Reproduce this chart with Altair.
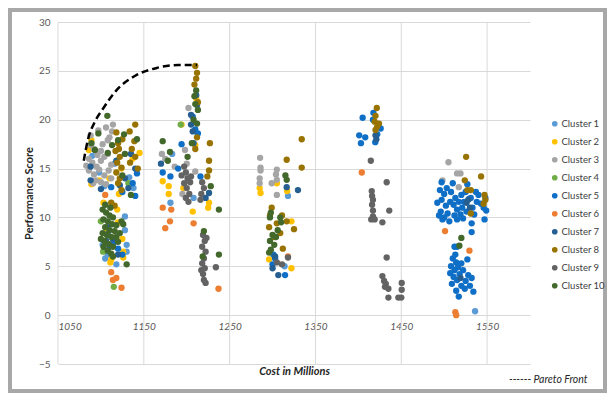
import altair as alt
import pandas as pd

cluster_names = [f"Cluster {i}" for i in range(1, 11)]
cluster_colors = ["#5B9BD5", "#FFC000", "#A5A5A5", "#70AD47", "#0F6FC6",
                  "#ED7D31", "#255E91", "#997300", "#636363", "#43682B"]

x_ticks = [1050, 1150, 1250, 1350, 1450, 1550]
y_ticks = [-5, 0, 5, 10, 15, 20, 25, 30]

c1 = [(1098, 14.6), (1104, 13.2), (1116, 15.5), (1133, 14.1), (1090, 16.3), (1138, 13.0),
      (1128, 8.7), (1130, 7.2), (1130, 6.5), (1118, 5.2), (1102, 7.2), (1108, 6.2), (1105, 5.8),
      (1128, 10.1), (1181, 11.5), (1208, 12.0), (1183, 16.5), (1318, 12.2), (1314, 5.0), (1536, 0.4)]

c2 = [(1089, 17.9), (1086, 16.9), (1098, 13.8), (1110, 14.0), (1124, 15.0), (1137, 16.0), (1089, 13.4),
      (1145, 16.6), (1121, 12.4), (1103, 11.5), (1119, 10.8), (1125, 7.8), (1126, 6.5), (1126, 5.9),
      (1112, 5.7), (1111, 5.4), (1107, 8.8), (1120, 9.5), (1194, 19.5), (1172, 13.7), (1179, 13.2),
      (1179, 12.4), (1196, 13.0), (1207, 10.6), (1226, 11.5), (1225, 11.0), (1210, 17.4), (1211, 22.2),
      (1285, 13.0), (1286, 12.5), (1305, 13.5), (1317, 12.7), (1322, 9.6), (1322, 4.8), (1296, 5.7)]

c3 = [(1114, 19.5), (1113, 18.8), (1108, 17.9), (1088, 17.4), (1092, 17.0), (1096, 16.4), (1100, 16.8),
      (1086, 16.0), (1090, 15.6), (1095, 15.2), (1100, 15.8), (1104, 16.2), (1108, 16.5), (1112, 15.4),
      (1086, 14.8), (1092, 14.4), (1098, 14.9), (1104, 14.3), (1109, 14.8), (1094, 13.8), (1100, 13.6),
      (1106, 13.4), (1112, 14.0), (1088, 18.4), (1097, 18.9), (1110, 18.2), (1102, 17.5), (1106, 19.2),
      (1083, 15.3), (1091, 13.5), (1202, 21.2), (1171, 16.5), (1175, 16.0), (1198, 16.9), (1186, 15.2),
      (1200, 15.5), (1210, 14.7), (1195, 12.4), (1285.5, 16.1), (1286, 15.1), (1286, 14.8), (1285, 14.0),
      (1285, 13.5), (1305, 14.9), (1304, 14.4), (1305, 13.85), (1299, 13.5), (1305, 12.3),
      (1505, 15.65), (1515, 14.5), (1519, 14.5), (1517, 13.1), (1498, 13.8)]

c4 = [(1100, 9.6), (1102.5, 6.5), (1115, 2.9), (1132, 13.5), (1193, 19.5)]

c5 = [(1137, 13.5), (1142, 14.5), (1125, 12.6), (1140, 12.2), (1112, 13.1), (1108, 8.3), (1120, 6.8),
      (1115, 7.4), (1125, 6.2), (1172, 14.6), (1190, 15.0), (1181, 14.2), (1194, 17.5), (1210, 19.0),
      (1213, 18.6), (1216, 14.2), (1207, 20.3), (1300, 5.2), (1314.6, 4.1), (1303, 5.8), (1301, 6.2),
      (1405, 20.2), (1417.5, 20.7), (1417, 20.0), (1426, 19.1), (1401, 18.4), (1408, 18.2), (1403, 17.6),
      (1419.7, 17.7), (1422, 18.5),
      (1497, 13.6), (1495, 12.8), (1500, 12.4), (1497, 11.8), (1502, 11.2), (1496, 10.6), (1500, 10.0),
      (1498, 9.8), (1504, 10.4), (1507, 11.6), (1508, 12.6), (1511, 11.3), (1513, 12.0), (1515, 10.8),
      (1512, 10.2), (1517, 11.6), (1520, 12.3), (1521, 11.0), (1519, 10.3), (1523, 11.6), (1525, 12.6),
      (1526, 10.6), (1529, 11.9), (1531, 12.0), (1533, 11.0), (1535, 10.3), (1538, 11.6), (1540, 12.3),
      (1543, 11.4), (1546, 11.0), (1549, 10.7), (1547, 9.8), (1532, 9.4), (1532, 8.5), (1510, 13.5),
      (1503, 13.0), (1527, 13.4), (1515, 9.8), (1506, 9.6), (1522, 9.9), (1492, 11.5), (1494, 10.2),
      (1548, 12.0), (1537, 12.6),
      (1512, 7.0), (1515, 7.0), (1527, 5.7), (1510, 5.8), (1514, 5.4), (1508, 5.0), (1512, 4.6),
      (1516, 4.9), (1520, 5.3), (1518, 4.2), (1511, 3.9), (1507, 4.3), (1515, 3.6), (1522, 4.6),
      (1525, 3.5), (1509, 3.2), (1520, 3.0), (1528, 4.1), (1530, 3.0), (1514, 2.5), (1524, 2.7),
      (1517, 1.9), (1532, 3.8), (1513, 6.2), (1534, 2.4)]

c6 = [(1105, 12.3), (1112, 4.4), (1114, 3.6), (1118, 3.8), (1124, 2.8), (1172, 11.0), (1182, 10.8),
      (1180.5, 9.6), (1175, 8.9), (1208, 9.4), (1237, 2.7), (1318, 6.0), (1404, 14.6), (1501, 8.6),
      (1529.4, 6.6), (1513, 0.3), (1514, 0.0)]

c7 = [(1088, 15.2), (1088, 13.8), (1128, 14.0), (1132, 13.0), (1140, 15.0), (1122, 13.3), (1135, 16.5),
      (1118, 15.8), (1100, 12.9), (1106, 7.6), (1110, 7.0), (1114, 7.8), (1108, 9.0), (1120, 6.2),
      (1205, 20.5), (1205, 19.5), (1207, 18.8), (1212, 21.5), (1170, 15.5), (1226, 12.5), (1222, 12.0),
      (1211, 22.5), (1208, 17.6), (1316.5, 13.1), (1329.6, 12.8), (1306.7, 4.1), (1303, 6.0), (1300, 4.8),
      (1420, 18.4), (1421, 18.0), (1526, 11.5), (1530, 11.0), (1528, 11.8), (1519, 3.8)]

c8 = [(1118, 18.7), (1120, 17.6), (1117, 16.8), (1122, 16.2), (1119, 15.6), (1124, 15.1), (1118, 14.6),
      (1122, 14.0), (1120, 13.5), (1124, 12.8), (1121, 17.0), (1125, 18.0), (1140, 19.5), (1133.5, 18.8),
      (1139, 17.8), (1136, 17.0), (1140, 16.2), (1134, 15.6), (1143, 15.0), (1112, 11.5), (1116, 11.2),
      (1210, 25.5), (1212, 24.8), (1211, 24.2), (1209, 23.6), (1213, 21.8), (1212, 18.2), (1227, 17.6),
      (1226, 15.8), (1226, 14.8), (1224, 14.2), (1210, 17.0), (1299, 11.0), (1297, 10.2), (1305, 9.4),
      (1311, 10.2), (1316.5, 9.6), (1325, 8.8), (1312, 6.8), (1302, 8.0), (1334, 18.0), (1334, 15.1),
      (1316.5, 15.9), (1309, 8.4), (1296, 9.0), (1421.5, 21.2), (1420, 20.4), (1419, 19.8), (1422, 19.3),
      (1420, 18.95), (1424, 19.6), (1525.6, 16.2), (1543, 14.2), (1524, 13.8), (1527, 12.8), (1531, 12.8),
      (1547, 12.3), (1548, 11.8), (1546, 11.4), (1531, 10.4)]

c9 = [(1197, 15.2), (1199, 14.6), (1201, 14.0), (1197, 13.5), (1200, 13.0), (1203, 12.4), (1199, 12.0),
      (1202, 11.6), (1205, 14.2), (1204, 13.6), (1194, 14.3), (1218, 13.6), (1220, 13.0), (1217, 12.4),
      (1216, 11.8), (1219, 8.2), (1221, 7.6), (1218, 7.0), (1222, 6.5), (1220, 5.8), (1218, 5.3),
      (1221, 4.8), (1219, 4.2), (1220, 3.6), (1222, 3.3), (1223, 7.9), (1234, 4.9), (1217, 4.6),
      (1305, 5.4), (1311, 5.2), (1318, 5.9), (1414.5, 15.8), (1415.6, 12.7), (1416, 12.2), (1417, 11.8),
      (1416, 11.3), (1417, 10.7), (1417, 10.1), (1415, 9.8), (1419, 9.8), (1428, 9.5), (1433, 13.6),
      (1436, 10.7), (1433, 5.9), (1428, 4.0), (1430, 3.5), (1432, 3.2), (1431, 2.9), (1435, 2.7),
      (1450.5, 3.3), (1450.5, 2.6), (1446.6, 1.8), (1450, 1.8), (1435, 1.8)]

c10 = [(1107.5, 20.4), (1097, 18.6), (1089, 17.6), (1108, 16.6), (1120, 17.9), (1127, 18.5), (1142, 18.0),
       (1135, 12.3), (1128, 16.5), (1125, 14.3), (1113, 17.4), (1093, 16.9),
       (1102, 10.8), (1106, 10.5), (1110, 10.2), (1114, 10.0), (1103, 9.8), (1108, 9.6), (1113, 9.3),
       (1118, 9.2), (1105, 9.0), (1110, 8.7), (1116, 8.6), (1102, 8.4), (1107, 8.2), (1112, 8.0),
       (1118, 8.0), (1104, 7.6), (1109, 7.3), (1114, 7.0), (1120, 7.5), (1103, 7.0), (1108, 6.6),
       (1112, 6.3), (1124, 9.6), (1126, 9.3), (1122, 8.4), (1105, 11.3), (1130, 5.2), (1114, 6.0),
       (1100, 7.8), (1111, 11.0),
       (1211, 23.0), (1209, 22.4), (1213, 21.0), (1208, 20.0), (1212, 19.6), (1206, 17.6), (1172, 17.8),
       (1180.5, 16.7), (1178, 15.8), (1201, 16.2), (1228, 13.2), (1237.5, 10.8), (1220, 8.6),
       (1237.5, 6.2), (1218.6, 6.0), (1210, 21.6),
       (1298, 10.5), (1297, 10.0), (1309, 10.0), (1306, 8.7), (1300, 8.2), (1304, 8.0), (1297, 7.6),
       (1302, 7.2), (1298, 6.7), (1296, 6.4), (1316.5, 13.85), (1315, 14.3), (1310, 9.5),
       (1520, 7.9), (1517.7, 7.1)]

pareto_cost = [1080, 1085, 1093, 1103, 1118, 1140, 1165, 1190, 1212]
pareto_score = [15.8, 18.0, 19.8, 21.2, 23.0, 24.5, 25.3, 25.6, 25.6]

clusters = [c1, c2, c3, c4, c5, c6, c7, c8, c9, c10]
rows = []
for name, pts in zip(cluster_names, clusters):
    for cx, cy in pts:
        rows.append({"cost": cx, "score": cy, "cluster": name})
df = pd.DataFrame(rows)
pareto_df = pd.DataFrame({"cost": pareto_cost, "score": pareto_score})
grid_df = pd.DataFrame({"cost": x_ticks})

W, H = 472, 342
FONT = "Lato"
xscale = alt.Scale(domain=[1050, 1600], nice=False, zero=False)
yscale = alt.Scale(domain=[-5, 30], nice=False, zero=False)

x_axis = alt.Axis(values=x_ticks, format="d", grid=False, domain=False, ticks=False, offset=-49,
                  labelFontStyle="italic", labelPadding=6, labelFontSize=10,
                  labelColor="#595959", labelFont=FONT,
                  title="Cost in Millions", titleFontStyle="italic", titleFontWeight="bold",
                  titleFontSize=11, titleColor="#262626", titleFont=FONT, titlePadding=34)
y_axis = alt.Axis(values=y_ticks, grid=True, gridColor="#D9D9D9", domain=False, ticks=False,
                  labelPadding=8, labelFontSize=10, labelColor="#595959", labelFont=FONT,
                  title="Performance Score", titleFontWeight="bold", titleFontSize=11,
                  titleColor="#262626", titleFont=FONT, titlePadding=4)

X = alt.X("cost:Q", scale=xscale, axis=x_axis)
Y = alt.Y("score:Q", scale=yscale, axis=y_axis)

vgrid = alt.Chart(grid_df).mark_rule(color="#D9D9D9", strokeWidth=1).encode(
    x=X, y=alt.value(0), y2=alt.value(H))

points = alt.Chart(df).mark_circle(size=40, opacity=1).encode(
    x=X, y=Y,
    color=alt.Color("cluster:N", scale=alt.Scale(domain=cluster_names, range=cluster_colors),
                    legend=alt.Legend(title=None, orient="none", legendX=492, legendY=97,
                                      symbolType="circle", symbolSize=32, symbolStrokeWidth=0,
                                      labelFontSize=9.5, labelColor="#404040", labelFont=FONT,
                                      labelOffset=2, rowPadding=7, padding=0)))

pareto = alt.Chart(pareto_df).mark_line(color="black", strokeWidth=2.5, strokeDash=[7, 4],
                                        interpolate="monotone").encode(x=X, y=Y)

note = alt.Chart(alt.Data(values=[{}])).mark_text(
    text="------   Pareto Front", align="left", baseline="middle", fontStyle="italic",
    fontSize=10.5, font=FONT, color="#262626").encode(x=alt.value(451), y=alt.value(358))

frame = alt.Chart(alt.Data(values=[{}])).mark_rect(
    fillOpacity=0, stroke="#A8A8A8", strokeWidth=4).encode(
    x=alt.value(-48), x2=alt.value(547), y=alt.value(-12), y2=alt.value(369))

chart = alt.layer(vgrid, points, pareto, note, frame).properties(
    width=W, height=H,
    autosize=alt.AutoSizeParams(type="none"),
    padding={"left": 50, "top": 14, "right": 77, "bottom": 29},
    background="white",
).configure_view(stroke=None)

chart.save("out.html", embed_options={"renderer": "svg", "actions": False})
